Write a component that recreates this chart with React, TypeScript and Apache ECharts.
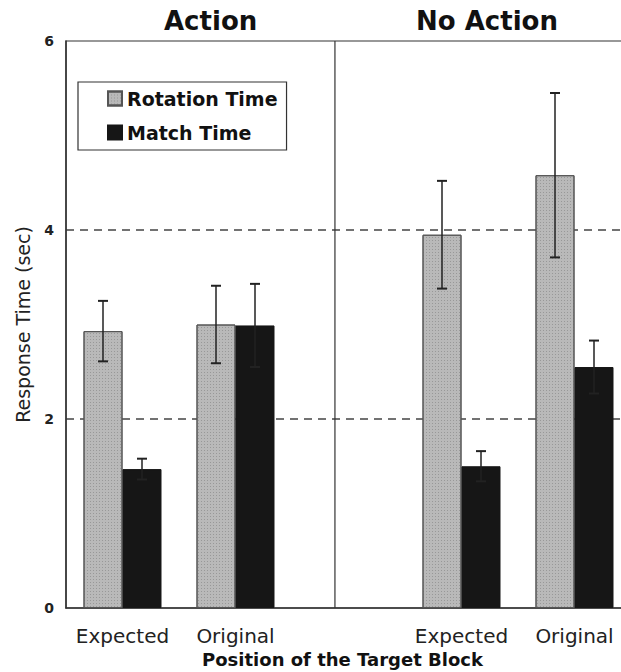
import React, { useEffect, useRef } from "react";
import * as echarts from "echarts";

// ---- data ----
const categories = ["Expected", "Original", "", "Expected", "Original"];
const rotationTime = [2.93, 3.0, null, 3.95, 4.58];
const rotationErr = [0.32, 0.41, null, 0.57, 0.87];
const matchTime = [1.47, 2.99, null, 1.5, 2.55];
const matchErr = [0.11, 0.44, null, 0.16, 0.28];
const panelTitles = ["Action", "No Action"];
const seriesNames = ["Rotation Time", "Match Time"];
const yMin = 0;
const yMax = 6;
const yInterval = 2;
const dividerAt = 2.38; // position between panels, in category units

const FONT = "DejaVu Sans";
const BAR_W = 39;

function errData(vals: (number | null)[], errs: (number | null)[]) {
  const out: number[][] = [];
  vals.forEach((v, i) => {
    if (v == null || errs[i] == null) return;
    out.push([i, v - (errs[i] as number), v + (errs[i] as number)]);
  });
  return out;
}

function errRender(offset: number) {
  return (params: any, api: any) => {
    const x = api.value(0);
    const lo = api.coord([x, api.value(1)]);
    const hi = api.coord([x, api.value(2)]);
    const cx = lo[0] + offset;
    const stroke = "#222";
    return {
      type: "group",
      children: [
        { type: "line", shape: { x1: cx, y1: lo[1], x2: cx, y2: hi[1] }, style: { stroke, lineWidth: 1.5 } },
        { type: "line", shape: { x1: cx - 5, y1: hi[1], x2: cx + 5, y2: hi[1] }, style: { stroke, lineWidth: 2 } },
        { type: "line", shape: { x1: cx - 5, y1: lo[1], x2: cx + 5, y2: lo[1] }, style: { stroke, lineWidth: 2 } },
      ],
    };
  };
}

export default function App() {
  const ref = useRef<HTMLDivElement>(null);
  useEffect(() => {
    if (!ref.current) return;
    const chart = echarts.init(ref.current, null, { renderer: "svg" });
    const option: any = {
      animation: false,
      backgroundColor: "#ffffff",
      textStyle: { fontFamily: FONT },
      grid: {
        left: 66,
        top: 41,
        width: 565,
        height: 567,
        outerBoundsMode: "none",
        containLabel: false,
        show: true,
        borderColor: "#333",
        borderWidth: 1.2,
        backgroundColor: "transparent",
      },
      legend: {
        data: seriesNames,
        orient: "vertical",
        left: 78,
        top: 82,
        padding: [7, 9, 8, 29],
        icon: "rect",
        itemWidth: 14,
        itemHeight: 14,
        itemGap: 15,
        borderColor: "#333",
        borderWidth: 1.2,
        backgroundColor: "#fff",
        textStyle: { fontFamily: FONT, fontSize: 19, fontWeight: "bold", color: "#111" },
      },
      graphic: [
        { type: "text", left: 211 - 47, top: 8, style: { text: panelTitles[0], font: `bold 26px "${FONT}"`, fill: "#111" } },
        { type: "text", left: 487 - 71, top: 8, style: { text: panelTitles[1], font: `bold 26px "${FONT}"`, fill: "#111" } },
      ],
      xAxis: [
        {
          type: "category",
          data: categories,
          axisLine: { show: true, lineStyle: { color: "#333", width: 1.5 } },
          axisTick: { show: false },
          axisLabel: { fontFamily: FONT, fontSize: 20, color: "#222", margin: 18, interval: 0 },
          name: "Position of the Target Block",
          nameLocation: "middle",
          nameGap: 40,
          nameTextStyle: { fontFamily: FONT, fontSize: 18, fontWeight: "bold", color: "#111", padding: [0, 12, 0, 0] },
          splitLine: { show: false },
        },
        { type: "value", min: 0, max: categories.length, show: false, splitLine: { show: false } },
      ],
      yAxis: {
        type: "value",
        min: yMin,
        max: yMax,
        interval: yInterval,
        axisLine: { show: true, lineStyle: { color: "#333", width: 1.5 } },
        axisTick: { show: false },
        axisLabel: { fontFamily: FONT, fontSize: 14, fontWeight: "bold", color: "#222", margin: 12 },
        splitLine: { show: true, showMinLine: false, showMaxLine: false, lineStyle: { color: "#444", width: 1.5, type: [8, 6] } },
        name: "Response Time (sec)",
        nameLocation: "middle",
        nameGap: 34,
        nameTextStyle: { fontFamily: FONT, fontSize: 19, color: "#222" },
      },
      series: [
        {
          name: seriesNames[0],
          type: "bar",
          data: rotationTime,
          barWidth: BAR_W,
          barGap: "0%",
          itemStyle: {
            color: "#b9b9b9",
            borderColor: "#555",
            borderWidth: 1,
            decal: { symbol: "rect", symbolSize: 1, dashArrayX: [1, 2], dashArrayY: [1, 2], color: "rgba(110,110,110,0.45)" },
          },
          z: 2,
        },
        {
          name: seriesNames[1],
          type: "bar",
          data: matchTime,
          barWidth: BAR_W,
          barGap: "0%",
          itemStyle: { color: "#161616", borderColor: "#161616", borderWidth: 1 },
          z: 2,
        },
        {
          type: "custom",
          name: "rotErr",
          renderItem: errRender(-BAR_W / 2),
          data: errData(rotationTime, rotationErr),
          encode: { x: 0, y: [1, 2] },
          z: 5,
        },
        {
          type: "custom",
          name: "matchErr",
          renderItem: errRender(BAR_W / 2),
          data: errData(matchTime, matchErr),
          encode: { x: 0, y: [1, 2] },
          z: 5,
        },
        {
          type: "line",
          name: "divider",
          xAxisIndex: 1,
          data: [[dividerAt, yMin], [dividerAt, yMax]],
          symbol: "none",
          lineStyle: { color: "#333", width: 1.2 },
          z: 3,
        },
      ],
    };
    chart.setOption(option);
    return () => chart.dispose();
  }, []);
  return <div ref={ref} style={{ position: "fixed", left: 0, top: 0, width: 621, height: 672 }} />;
}
